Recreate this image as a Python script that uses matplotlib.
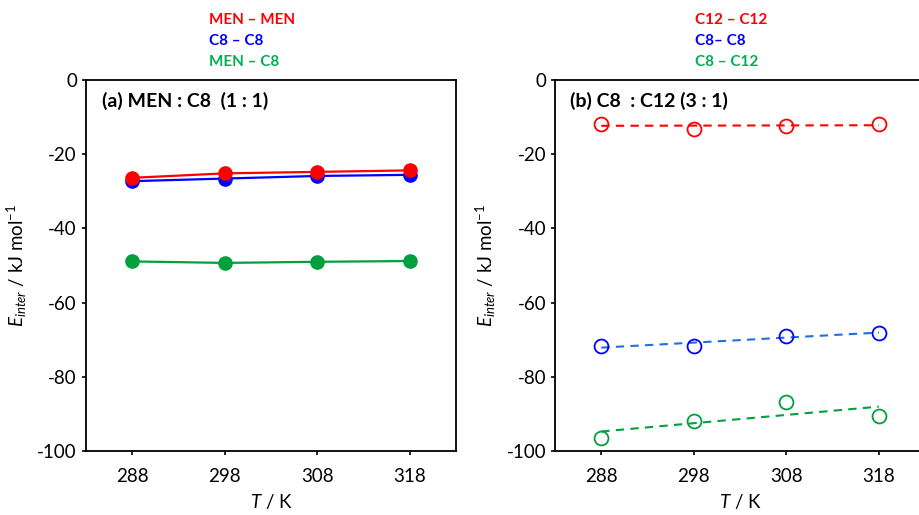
import numpy as np
import matplotlib
matplotlib.use('Agg')
import matplotlib.pyplot as plt

plt.rcParams['font.family'] = ['Lato', 'DejaVu Sans']
plt.rcParams['axes.unicode_minus'] = False
plt.rcParams['mathtext.fontset'] = 'custom'
plt.rcParams['mathtext.it'] = 'Lato:italic'
plt.rcParams['mathtext.rm'] = 'Lato'

# データ
temps = [288, 298, 308, 318]
a_men_men = [-26.4, -25.2, -24.8, -24.4]
a_c8_c8 = [-27.3, -26.6, -25.9, -25.6]
a_men_c8 = [-48.9, -49.3, -49.0, -48.8]
b_c12_c12 = [-11.8, -13.2, -12.4, -11.9]
b_c8_c8 = [-71.7, -71.6, -68.9, -68.1]
b_c8_c12 = [-96.3, -91.8, -86.6, -90.6]

labels_a = ['MEN \u2013 MEN', 'C8 \u2013 C8', 'MEN \u2013 C8']
labels_b = ['C12 \u2013 C12', 'C8\u2013 C8', 'C8 \u2013 C12']

red = '#FF0000'
blue = '#0000FF'
green = '#00A03C'
text_green = '#00B050'

fig = plt.figure(figsize=(9.2, 5.15), dpi=100)
ax1 = fig.add_axes([0.0935, 0.1237, 0.4022, 0.7215])
ax2 = fig.add_axes([0.6033, 0.1237, 0.4022, 0.7215])

# (a) 実線 + 塗りつぶし丸
for y, c in [(a_men_c8, green), (a_c8_c8, blue), (a_men_men, red)]:
    ax1.plot(temps, y, '-o', color=c, lw=1.6, ms=9.5)

# (b) 白抜き丸 + 近似直線（破線）
x = np.array(temps, dtype=float)
xf = np.array([temps[0], temps[-1]], dtype=float)
for y, c, lc in [(b_c12_c12, red, red), (b_c8_c8, blue, '#1E6FE0'), (b_c8_c12, green, green)]:
    p = np.polyfit(x, y, 1)
    ax2.plot(xf, np.polyval(p, xf), color=lc, lw=1.5, dashes=(4, 3))
    ax2.plot(temps, y, 'o', mfc='none', mec=c, mew=1.3, ms=10)

for ax in (ax1, ax2):
    ax.set_xlim(283, 323)
    ax.set_ylim(-100, 0)
    ax.set_xticks(temps)
    ax.set_yticks([0, -20, -40, -60, -80, -100])
    ax.tick_params(direction='out', length=3, width=1.2, labelsize=13.5)
    ax.tick_params(axis='x', pad=9)
    for s in ax.spines.values():
        s.set_linewidth(1.3)
    ax.set_xlabel('$\\mathit{T}$ / K', fontsize=13.5, labelpad=5)
    ax.set_ylabel('$\\mathit{E}_{\\mathit{inter}}$ / kJ mol$^{-1}$', fontsize=13.5, labelpad=6)

ax1.text(0.043, 0.943, '(a) MEN : C8  (1 : 1)', transform=ax1.transAxes,
         fontsize=14, fontweight='bold', va='center')
ax2.text(0.04, 0.943, '(b) C8  : C12 (3 : 1)', transform=ax2.transAxes,
         fontsize=14, fontweight='bold', va='center')

# 上部の凡例テキスト
for i, (t, c) in enumerate(zip(labels_a, [red, blue, text_green])):
    fig.text(209 / 920, 1 - (20 + 21 * i) / 515, t, color=c, fontsize=11,
             fontweight='bold', va='center')
for i, (t, c) in enumerate(zip(labels_b, [red, blue, text_green])):
    fig.text(695 / 920, 1 - (20 + 21 * i) / 515, t, color=c, fontsize=11,
             fontweight='bold', va='center')

fig.savefig('out.png', dpi=100)
